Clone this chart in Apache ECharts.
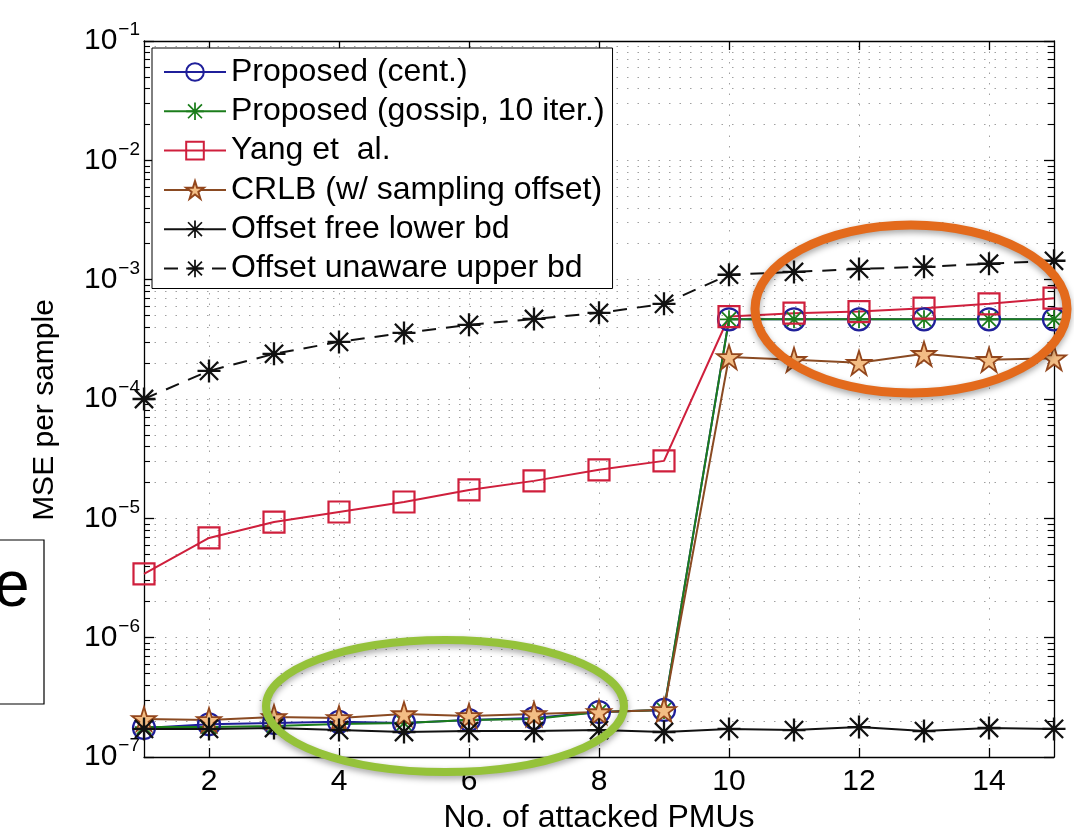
<!DOCTYPE html>
<html>
<head>
<meta charset="utf-8">
<script src="https://cdn.jsdelivr.net/npm/echarts@6/dist/echarts.min.js"></script>
<style>
    html, body { margin: 0; padding: 0; background: #fff; }
    #chart { width: 1074px; height: 839px; }
</style>
</head>
<body>
<div id="chart"></div>
<script>
    // data
    const attacked = [1, 2, 3, 4, 5, 6, 7, 8, 9, 10, 11, 12, 13, 14, 15];
    const proposedCent = [1.75e-7, 1.88e-7, 1.93e-7, 1.97e-7, 1.93e-7, 2.04e-7, 2.12e-7, 2.38e-7, 2.48e-7,
        4.65e-4, 4.65e-4, 4.65e-4, 4.65e-4, 4.65e-4, 4.65e-4];
    const proposedGossip = [1.78e-7, 1.78e-7, 1.82e-7, 1.89e-7, 1.93e-7, 2.04e-7, 2.08e-7, 2.38e-7, 2.48e-7,
        4.65e-4, 4.65e-4, 4.65e-4, 4.65e-4, 4.65e-4, 4.65e-4];
    const yangEtAl = [3.42e-6, 6.85e-6, 9.3e-6, 1.13e-5, 1.37e-5, 1.73e-5, 2.06e-5, 2.55e-5, 3.03e-5,
        4.91e-4, 5.24e-4, 5.4e-4, 5.77e-4, 6.27e-4, 7.0e-4];
    const crlb = [2.08e-7, 2.04e-7, 2.16e-7, 2.12e-7, 2.29e-7, 2.21e-7, 2.29e-7, 2.38e-7, 2.48e-7,
        2.25e-4, 2.13e-4, 2.01e-4, 2.39e-4, 2.13e-4, 2.2e-4];
    const lowerBd = [1.72e-7, 1.72e-7, 1.75e-7, 1.68e-7, 1.62e-7, 1.65e-7, 1.65e-7, 1.68e-7, 1.62e-7,
        1.72e-7, 1.68e-7, 1.78e-7, 1.65e-7, 1.75e-7, 1.72e-7];
    const upperBd = [1.0e-4, 1.72e-4, 2.39e-4, 3.01e-4, 3.58e-4, 4.18e-4, 4.69e-4, 5.27e-4, 6.27e-4,
        1.10e-3, 1.16e-3, 1.23e-3, 1.28e-3, 1.36e-3, 1.44e-3];

    const xTicks = [2, 4, 6, 8, 10, 12, 14];
    const yTicks = [1e-7, 1e-6, 1e-5, 1e-4, 1e-3, 1e-2, 1e-1];
    // minor log ticks 2..9 of every decade
    const yMinor = [];
    for (let e = -7; e < -1; e++) {
        for (let m = 2; m <= 9; m++) yMinor.push(m * Math.pow(10, e));
    }

    const FONT = 'Liberation Sans';
    const ASTERISK = 'path://M0,9L20,9L20,11L0,11Z M9,0L11,0L11,20L9,20Z ' +
        'M2.8,1.4L18.6,17.2L17.2,18.6L1.4,2.8Z M17.2,1.4L18.6,2.8L2.8,18.6L1.4,17.2Z';
    const STAR = 'path://M10,0L12.25,6.91L19.51,6.91L13.63,11.18L15.88,18.09L10,13.82L4.12,18.09L6.37,11.18L0.49,6.91L7.76,6.91Z';

    const pairs = (ys) => attacked.map((x, i) => [x, ys[i]]);

    const gridDot = { show: true, lineStyle: { color: '#a0a0a0', width: 1, type: [1.5, 9] } };
    const blackLine = { show: true, onZero: false, lineStyle: { color: '#000', width: 1.3 } };

    let myChart = echarts.init(document.getElementById('chart'));

    let option = {
        animation: false,
        backgroundColor: '#fff',
        textStyle: { fontFamily: FONT },
        grid: { left: 144, right: 20, top: 41, bottom: 82, outerBoundsMode: 'none', containLabel: false },
        legend: {
            left: 152,
            top: 48,
            orient: 'vertical',
            backgroundColor: '#fff',
            borderColor: '#000',
            borderWidth: 1,
            padding: [8, 8, 4, 11],
            itemWidth: 62,
            itemHeight: 22,
            itemGap: 7.3,
            textStyle: { fontSize: 32, color: '#000', fontFamily: FONT, lineHeight: 32 },
            data: ['Proposed (cent.)', 'Proposed (gossip, 10 iter.)', 'Yang et  al.',
                'CRLB (w/ sampling offset)', 'Offset free lower bd', 'Offset unaware upper bd']
        },
        xAxis: [{
            type: 'value',
            min: 1,
            max: 15,
            position: 'bottom',
            name: 'No. of attacked PMUs',
            nameLocation: 'middle',
            nameGap: 44,
            nameTextStyle: { fontSize: 32, color: '#000', fontFamily: FONT },
            axisLine: blackLine,
            axisTick: { inside: true, length: 9, customValues: xTicks, lineStyle: { color: '#000', width: 1.3 } },
            axisLabel: { customValues: xTicks, fontSize: 30, color: '#000', margin: 10, fontFamily: FONT },
            splitLine: gridDot
        }, {
            type: 'value',
            min: 1,
            max: 15,
            position: 'top',
            axisLine: blackLine,
            axisTick: { inside: true, length: 9, customValues: xTicks, lineStyle: { color: '#000', width: 1.3 } },
            axisLabel: { show: false },
            splitLine: { show: false }
        }],
        yAxis: [{
            type: 'log',
            min: 1e-7,
            max: 1e-1,
            position: 'left',
            name: 'MSE per sample',
            nameLocation: 'middle',
            nameGap: 84,
            nameTextStyle: { fontSize: 30, color: '#000', fontFamily: FONT, padding: [0, 22, 0, 0] },
            axisLine: blackLine,
            axisTick: { inside: true, length: 10, customValues: yTicks, lineStyle: { color: '#000', width: 1.3 } },
            axisLabel: {
                customValues: yTicks,
                margin: 4,
                formatter: (v) => '{b|10}{s|\u2212' + (-Math.round(Math.log10(v))) + '}',
                rich: {
                    b: { fontSize: 30, color: '#000', fontFamily: FONT },
                    s: { fontSize: 19, color: '#000', fontFamily: FONT, padding: [0, 0, 22, 1] }
                }
            },
            splitLine: gridDot
        }, {
            type: 'log',
            min: 1e-7,
            max: 1e-1,
            position: 'left',
            axisLine: { show: false },
            axisTick: { inside: true, length: 6, customValues: yMinor, lineStyle: { color: '#000', width: 1.1 } },
            axisLabel: { show: false },
            splitLine: gridDot
        }, {
            type: 'log',
            min: 1e-7,
            max: 1e-1,
            position: 'right',
            axisLine: blackLine,
            axisTick: { inside: true, length: 10, customValues: yTicks, lineStyle: { color: '#000', width: 1.3 } },
            axisLabel: { show: false },
            splitLine: { show: false }
        }, {
            type: 'log',
            min: 1e-7,
            max: 1e-1,
            position: 'right',
            axisLine: { show: false },
            axisTick: { inside: true, length: 6, customValues: yMinor, lineStyle: { color: '#000', width: 1.1 } },
            axisLabel: { show: false },
            splitLine: { show: false }
        }],
        series: [
            {
                name: 'Proposed (cent.)',
                type: 'line',
                data: pairs(proposedCent),
                symbol: 'circle',
                symbolSize: 22,
                itemStyle: { color: 'rgba(0,0,0,0)', borderColor: '#1f1f9a', borderWidth: 2.2 },
                lineStyle: { color: '#1f1f9a', width: 2 }
            },
            {
                name: 'Proposed (gossip, 10 iter.)',
                type: 'line',
                data: pairs(proposedGossip),
                symbol: ASTERISK,
                symbolSize: 18,
                itemStyle: { color: '#1b7d1b' },
                lineStyle: { color: '#1b7d1b', width: 2 }
            },
            {
                name: 'Yang et  al.',
                type: 'line',
                data: pairs(yangEtAl),
                symbol: 'rect',
                symbolSize: 21,
                itemStyle: { color: 'rgba(0,0,0,0)', borderColor: '#cf1f3c', borderWidth: 2.2 },
                lineStyle: { color: '#cf1f3c', width: 2 }
            },
            {
                name: 'CRLB (w/ sampling offset)',
                type: 'line',
                data: pairs(crlb),
                symbol: STAR,
                symbolSize: 24,
                itemStyle: { color: '#f3bd84', borderColor: '#93461c', borderWidth: 1.8 },
                lineStyle: { color: '#8a4a22', width: 2 }
            },
            {
                name: 'Offset free lower bd',
                type: 'line',
                data: pairs(lowerBd),
                symbol: ASTERISK,
                symbolSize: 23,
                itemStyle: { color: '#111' },
                lineStyle: { color: '#111', width: 2 }
            },
            {
                name: 'Offset unaware upper bd',
                type: 'line',
                data: pairs(upperBd),
                symbol: ASTERISK,
                symbolSize: 23,
                itemStyle: { color: '#111' },
                lineStyle: { color: '#111', width: 2, type: [14, 10] }
            }
        ],
        graphic: [
            {
                type: 'ellipse',
                z: 100,
                shape: { cx: 911, cy: 309, rx: 156, ry: 84 },
                style: { fill: 'none', stroke: '#e36a1c', lineWidth: 9,
                    shadowBlur: 6, shadowColor: 'rgba(0,0,0,0.35)', shadowOffsetY: 3 }
            },
            {
                type: 'ellipse',
                z: 100,
                shape: { cx: 445, cy: 706, rx: 179, ry: 66 },
                style: { fill: 'none', stroke: '#95c23a', lineWidth: 8,
                    shadowBlur: 6, shadowColor: 'rgba(0,0,0,0.35)', shadowOffsetY: 3 }
            },
            {
                type: 'rect',
                z: 100,
                shape: { x: -2, y: 540, width: 46, height: 164 },
                style: { fill: '#fff', stroke: '#000', lineWidth: 1.2 }
            },
            {
                type: 'text',
                z: 101,
                left: -6,
                top: 556,
                style: { text: 'e', fontSize: 64, fill: '#000', fontFamily: FONT }
            }
        ]
    };

    myChart.setOption(option);
</script>
</body>
</html>
